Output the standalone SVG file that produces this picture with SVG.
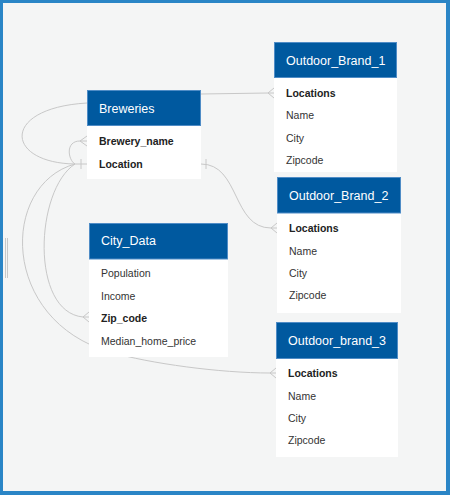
<svg xmlns="http://www.w3.org/2000/svg" width="450" height="495" viewBox="0 0 450 495">
<style>
.hdr{fill:#00599f;stroke:#4f8cc6;stroke-width:1}
.body{fill:#ffffff}
.title{font-family:"Liberation Sans",Arial,sans-serif;font-size:12.5px;fill:#ffffff}
.fld{font-family:"Liberation Sans",Arial,sans-serif;font-size:10.5px;fill:#333333}
.key{font-weight:bold;fill:#222222}
.conn path,.conn line{fill:none;stroke:#c8c8c8;stroke-width:1}
</style>
<rect x="0" y="0" width="450" height="495" fill="#2a85c6"/>
<rect x="3" y="3" width="443" height="488" fill="#f4f5f5"/>
<g id="grip" stroke="#c8c8c8" stroke-width="1">
<line x1="5.5" y1="238" x2="5.5" y2="278"/>
<line x1="7.5" y1="238" x2="7.5" y2="278"/>
</g>
<g class="conn" id="connectors">
<!-- Breweries -> Outdoor_Brand_1 -->
<path d="M201,94 L268,93"/>
<path d="M274,88 L268,93 L274,98 M268,93 L274,93"/>
<!-- Breweries Location -> Outdoor_Brand_2 -->
<path d="M201,164 C240,164 232,228 271,228 L277,228"/>
<line x1="206" y1="159" x2="206" y2="169"/>
<path d="M277,223 L271,228 L277,233"/>
<!-- Breweries left junction -->
<path d="M87,164 L75,164"/>
<line x1="81" y1="159" x2="81" y2="169"/>
<!-- self loop to header -->
<path d="M87,103 C0,108 5,163 75,164"/>
<!-- self loop to Brewery_name -->
<path d="M75,164 C68,160 65,141 80,141 L87,141"/>
<path d="M87,136 L80,141 L87,146"/>
<!-- to City_Data Zip_code -->
<path d="M75,164 C35,190 30,312 83,317 L89,317"/>
<path d="M89,312 L83,317 L89,322"/>
<!-- to Outdoor_brand_3 (passes behind City_Data) -->
<path d="M75,164 C0,185 0,320 110,352 C150,363.6 220,373 270,373 L276,373"/>
<path d="M276,368 L270,373 L276,378"/>
</g>
<g id="Breweries">
<rect class="body" x="87" y="90" width="114" height="89"/>
<rect class="hdr" x="87.5" y="90.5" width="113" height="35"/>
<text class="title" x="99" y="112.5">Breweries</text>
<text class="fld key" x="99" y="145">Brewery_name</text>
<text class="fld key" x="99" y="168">Location</text>
</g>
<g id="Outdoor_Brand_1">
<rect class="body" x="274" y="42" width="123" height="130"/>
<rect class="hdr" x="274.5" y="42.5" width="122" height="35"/>
<text class="title" x="286" y="64.5">Outdoor_Brand_1</text>
<text class="fld key" x="286" y="96.5">Locations</text>
<text class="fld" x="286" y="119">Name</text>
<text class="fld" x="286" y="141.5">City</text>
<text class="fld" x="286" y="163.5">Zipcode</text>
</g>
<g id="Outdoor_Brand_2">
<rect class="body" x="277" y="177" width="124" height="136"/>
<rect class="hdr" x="277.5" y="177.5" width="123" height="35.5"/>
<text class="title" x="289" y="200">Outdoor_Brand_2</text>
<text class="fld key" x="289" y="232">Locations</text>
<text class="fld" x="289" y="255">Name</text>
<text class="fld" x="289" y="277">City</text>
<text class="fld" x="289" y="299">Zipcode</text>
</g>
<g id="Outdoor_brand_3">
<rect class="body" x="276" y="322" width="122" height="135"/>
<rect class="hdr" x="276.5" y="322.5" width="121" height="36"/>
<text class="title" x="288" y="345">Outdoor_brand_3</text>
<text class="fld key" x="288" y="377">Locations</text>
<text class="fld" x="288" y="400">Name</text>
<text class="fld" x="288" y="422">City</text>
<text class="fld" x="288" y="444">Zipcode</text>
</g>
<g id="City_Data">
<rect class="body" x="89" y="223" width="139" height="134"/>
<rect class="hdr" x="89.5" y="223.5" width="138" height="35.5"/>
<text class="title" x="101" y="244.5">City_Data</text>
<text class="fld" x="101" y="277">Population</text>
<text class="fld" x="101" y="300">Income</text>
<text class="fld key" x="101" y="322">Zip_code</text>
<text class="fld" x="101" y="345">Median_home_price</text>
</g>
</svg>
